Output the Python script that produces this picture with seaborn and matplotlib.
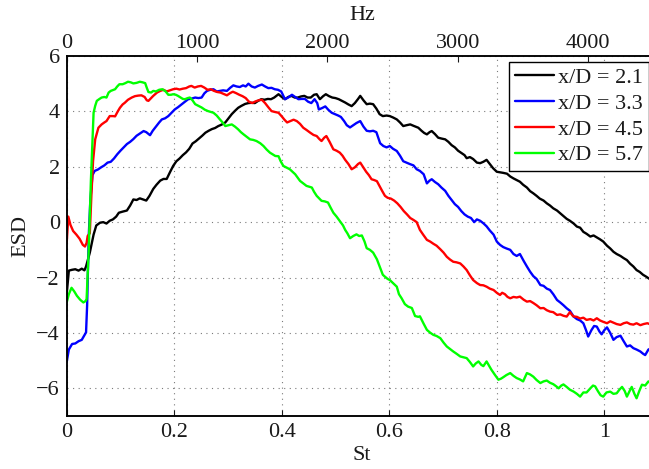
import numpy as np
import pandas as pd
import matplotlib
matplotlib.use("Agg")
import matplotlib.pyplot as plt
import seaborn as sns

# Energy spectral density vs Strouhal number at four downstream stations
st_21 = [0, 0.004, 0.01, 0.016, 0.022, 0.028, 0.033, 0.036, 0.043, 0.05, 0.055, 0.062, 0.068, 0.074,
         0.08, 0.086, 0.092, 0.097, 0.104, 0.112, 0.118, 0.124, 0.13, 0.136, 0.142, 0.148, 0.154, 0.161,
         0.167, 0.174, 0.18, 0.186, 0.192, 0.198, 0.204, 0.21, 0.216, 0.222, 0.228, 0.234, 0.24, 0.246,
         0.252, 0.258, 0.264, 0.27, 0.276, 0.282, 0.288, 0.295, 0.301, 0.307, 0.313, 0.319, 0.325, 0.332,
         0.338, 0.344, 0.35, 0.356, 0.362, 0.368, 0.374, 0.38, 0.386, 0.394, 0.4, 0.406, 0.412, 0.418,
         0.424, 0.43, 0.436, 0.442, 0.448, 0.454, 0.46, 0.465, 0.471, 0.477, 0.482, 0.488, 0.494, 0.5,
         0.506, 0.512, 0.518, 0.524, 0.53, 0.536, 0.542, 0.546, 0.552, 0.558, 0.564, 0.57, 0.576, 0.582,
         0.588, 0.595, 0.601, 0.607, 0.614, 0.62, 0.626, 0.632, 0.639, 0.645, 0.654, 0.66, 0.665, 0.67,
         0.675, 0.679, 0.685, 0.691, 0.697, 0.704, 0.71, 0.716, 0.722, 0.728, 0.734, 0.74, 0.744, 0.75,
         0.756, 0.763, 0.769, 0.775, 0.781, 0.787, 0.793, 0.8, 0.806, 0.812, 0.819, 0.825, 0.831, 0.837,
         0.843, 0.849, 0.856, 0.862, 0.868, 0.874, 0.88, 0.887, 0.893, 0.899, 0.905, 0.912, 0.918, 0.924,
         0.93, 0.936, 0.943, 0.949, 0.955, 0.961, 0.967, 0.974, 0.98, 0.986, 0.992, 0.998, 1.005, 1.011,
         1.017, 1.023, 1.03, 1.036, 1.042, 1.048, 1.054, 1.06, 1.066, 1.072, 1.078, 1.084, 1.09, 1.098]
esd_21 = [-2.6, -1.75, -1.72, -1.7, -1.75, -1.68, -1.74, -1.6, -1.1, -0.45, -0.12, -0.02, 0.0, -0.05,
          0.05, 0.1, 0.2, 0.34, 0.38, 0.42, 0.6, 0.82, 0.8, 0.86, 0.82, 0.78, 0.95, 1.2,
          1.35, 1.5, 1.56, 1.56, 1.8, 2.03, 2.2, 2.3, 2.42, 2.52, 2.65, 2.84, 2.92, 3.02,
          3.12, 3.23, 3.3, 3.36, 3.4, 3.47, 3.52, 3.6, 3.75, 3.9, 4.02, 4.13, 4.2, 4.27,
          4.3, 4.31, 4.3, 4.38, 4.44, 4.42, 4.45, 4.44, 4.5, 4.62, 4.52, 4.44, 4.52, 4.56,
          4.5, 4.5, 4.54, 4.56, 4.5, 4.5, 4.6, 4.62, 4.44, 4.55, 4.62, 4.55, 4.5, 4.48,
          4.44, 4.38, 4.32, 4.25, 4.19, 4.3, 4.45, 4.56, 4.4, 4.26, 4.28, 4.26, 4.1, 3.9,
          3.83, 3.85, 3.83, 3.78, 3.71, 3.6, 3.47, 3.5, 3.53, 3.48, 3.41, 3.3, 3.22, 3.17,
          3.25, 3.29, 3.18, 3.05, 3.02, 2.99, 2.9, 2.78, 2.7, 2.58, 2.5, 2.42, 2.31, 2.35,
          2.28, 2.15, 2.13, 2.18, 2.25, 2.1, 1.95, 1.82, 1.8, 1.78, 1.75, 1.65, 1.58, 1.52,
          1.46, 1.35, 1.25, 1.12, 1.04, 0.95, 0.85, 0.78, 0.68, 0.6, 0.5, 0.42, 0.32, 0.22,
          0.12, 0.05, -0.05, -0.16, -0.2, -0.35, -0.42, -0.52, -0.48, -0.55, -0.62, -0.7, -0.85, -0.95,
          -1.07, -1.15, -1.22, -1.3, -1.37, -1.5, -1.6, -1.73, -1.8, -1.9, -1.97, -2.05, -2.1, -2.15]

st_33 = [0, 0.004, 0.01, 0.016, 0.022, 0.028, 0.034, 0.036, 0.038, 0.041, 0.044, 0.048, 0.052, 0.058,
         0.064, 0.07, 0.076, 0.082, 0.088, 0.094, 0.1, 0.106, 0.112, 0.118, 0.124, 0.13, 0.136, 0.143,
         0.148, 0.155, 0.16, 0.166, 0.172, 0.177, 0.183, 0.189, 0.195, 0.201, 0.207, 0.214, 0.22, 0.226,
         0.232, 0.239, 0.245, 0.251, 0.256, 0.261, 0.267, 0.273, 0.279, 0.285, 0.291, 0.298, 0.304, 0.31,
         0.316, 0.322, 0.328, 0.333, 0.338, 0.344, 0.35, 0.356, 0.363, 0.369, 0.375, 0.381, 0.387, 0.393,
         0.399, 0.406, 0.412, 0.419, 0.425, 0.431, 0.437, 0.443, 0.449, 0.455, 0.461, 0.466, 0.469, 0.475,
         0.481, 0.487, 0.493, 0.499, 0.505, 0.51, 0.516, 0.521, 0.527, 0.533, 0.539, 0.546, 0.552, 0.558,
         0.564, 0.57, 0.576, 0.583, 0.589, 0.595, 0.601, 0.607, 0.614, 0.62, 0.626, 0.632, 0.638, 0.645,
         0.651, 0.657, 0.664, 0.67, 0.675, 0.679, 0.685, 0.691, 0.697, 0.704, 0.71, 0.716, 0.722, 0.728,
         0.734, 0.74, 0.746, 0.752, 0.758, 0.763, 0.769, 0.775, 0.781, 0.787, 0.794, 0.8, 0.806, 0.812,
         0.818, 0.825, 0.831, 0.837, 0.843, 0.85, 0.856, 0.862, 0.868, 0.874, 0.881, 0.887, 0.893, 0.899,
         0.905, 0.912, 0.918, 0.924, 0.93, 0.936, 0.943, 0.949, 0.955, 0.961, 0.966, 0.97, 0.976, 0.981,
         0.986, 0.991, 0.995, 1.0, 1.005, 1.011, 1.017, 1.023, 1.03, 1.036, 1.042, 1.048, 1.054, 1.06,
         1.067, 1.072, 1.076, 1.082, 1.088, 1.095]
esd_33 = [-5.05, -4.6, -4.4, -4.38, -4.3, -4.25, -4.05, -3.98, -3.0, -0.5, 0.8, 1.7, 1.85, 1.9,
          1.98, 2.05, 2.15, 2.18, 2.3, 2.45, 2.58, 2.7, 2.82, 2.9, 3.0, 3.12, 3.2, 3.29,
          3.25, 3.14, 3.3, 3.45, 3.6, 3.71, 3.75, 3.83, 3.95, 4.07, 4.15, 4.26, 4.35, 4.44,
          4.46, 4.5, 4.48, 4.5, 4.65, 4.74, 4.78, 4.8, 4.72, 4.74, 4.76, 4.74, 4.85, 4.94,
          4.9, 4.88, 4.94, 4.9, 5.0, 4.9, 4.86, 4.92, 4.97, 4.9, 4.84, 4.85, 4.8, 4.78,
          4.72, 4.44, 4.5, 4.6, 4.52, 4.44, 4.45, 4.45, 4.35, 4.3, 4.44, 4.3, 4.07, 4.12,
          4.18, 4.05, 3.95, 3.9, 3.85, 3.8, 3.65, 3.5, 3.42, 3.5, 3.58, 3.65, 3.45, 3.3,
          3.28, 3.3, 3.25, 2.85, 2.75, 2.7, 2.75, 2.65, 2.57, 2.4, 2.2, 2.15, 2.1, 2.05,
          1.91, 1.85, 1.73, 1.4, 1.5, 1.55, 1.45, 1.37, 1.25, 1.13, 0.95, 0.8, 0.65, 0.55,
          0.4, 0.28, 0.2, 0.15, 0.0, 0.1, 0.05, -0.04, -0.15, -0.3, -0.45, -0.7, -0.82, -0.9,
          -0.95, -1.0, -1.15, -1.22, -1.15, -1.4, -1.6, -1.79, -1.95, -2.05, -2.27, -2.3, -2.4, -2.45,
          -2.6, -2.81, -2.9, -3.0, -3.11, -3.2, -3.41, -3.5, -3.55, -3.65, -3.9, -4.13, -3.9, -3.75,
          -3.77, -3.95, -4.05, -3.9, -3.8, -4.0, -4.25, -4.15, -4.1, -4.3, -4.49, -4.45, -4.55, -4.6,
          -4.67, -4.75, -4.8, -4.6, -4.55, -4.6]

st_45 = [0, 0.003, 0.007, 0.012, 0.018, 0.024, 0.03, 0.034, 0.037, 0.039, 0.043, 0.046, 0.049, 0.053,
         0.059, 0.065, 0.07, 0.074, 0.08, 0.086, 0.09, 0.095, 0.099, 0.104, 0.108, 0.114, 0.121, 0.127,
         0.133, 0.139, 0.145, 0.149, 0.152, 0.157, 0.161, 0.168, 0.174, 0.18, 0.186, 0.192, 0.198, 0.204,
         0.21, 0.216, 0.222, 0.228, 0.232, 0.238, 0.244, 0.25, 0.256, 0.262, 0.268, 0.274, 0.28, 0.286,
         0.292, 0.298, 0.304, 0.309, 0.315, 0.321, 0.327, 0.333, 0.339, 0.345, 0.351, 0.357, 0.363, 0.369,
         0.375, 0.381, 0.387, 0.394, 0.4, 0.405, 0.41, 0.416, 0.422, 0.428, 0.434, 0.44, 0.446, 0.453,
         0.459, 0.465, 0.47, 0.474, 0.479, 0.483, 0.489, 0.496, 0.502, 0.508, 0.513, 0.518, 0.524, 0.53,
         0.536, 0.542, 0.546, 0.551, 0.557, 0.562, 0.567, 0.572, 0.577, 0.582, 0.587, 0.592, 0.597, 0.603,
         0.609, 0.615, 0.621, 0.627, 0.633, 0.639, 0.645, 0.651, 0.657, 0.663, 0.67, 0.676, 0.682, 0.688,
         0.695, 0.701, 0.707, 0.713, 0.719, 0.725, 0.732, 0.738, 0.744, 0.75, 0.756, 0.763, 0.769, 0.775,
         0.781, 0.787, 0.794, 0.8, 0.806, 0.81, 0.815, 0.82, 0.825, 0.831, 0.837, 0.843, 0.85, 0.856,
         0.862, 0.868, 0.874, 0.881, 0.887, 0.893, 0.899, 0.905, 0.912, 0.918, 0.924, 0.93, 0.936, 0.942,
         0.949, 0.955, 0.961, 0.967, 0.974, 0.98, 0.986, 0.992, 0.998, 1.005, 1.011, 1.017, 1.023, 1.03,
         1.036, 1.042, 1.048, 1.054, 1.06, 1.067, 1.073, 1.08, 1.087, 1.095]
esd_45 = [-0.75, 0.2, -0.1, -0.32, -0.45, -0.6, -0.82, -0.88, -0.75, -0.5, -0.4, 1.0, 2.2, 2.99,
          3.41, 3.53, 3.6, 3.65, 3.83, 3.83, 3.82, 4.0, 4.13, 4.25, 4.31, 4.42, 4.5, 4.55,
          4.57, 4.58, 4.52, 4.4, 4.38, 4.48, 4.56, 4.68, 4.74, 4.78, 4.72, 4.76, 4.8, 4.82,
          4.79, 4.82, 4.84, 4.9, 4.92, 4.86, 4.9, 4.92, 4.86, 4.78, 4.8, 4.74, 4.7, 4.68,
          4.63, 4.58, 4.66, 4.71, 4.66, 4.6, 4.55, 4.48, 4.35, 4.3, 4.36, 4.4, 4.42, 4.3,
          4.15, 4.01, 3.98, 3.95, 3.82, 3.7, 3.6, 3.65, 3.7, 3.65, 3.55, 3.41, 3.33, 3.23,
          3.15, 3.11, 3.0, 2.93, 3.05, 3.11, 2.9, 2.63, 2.58, 2.51, 2.4, 2.25, 2.1, 1.91,
          1.98, 2.1, 2.15, 2.0, 1.82, 1.7, 1.55, 1.52, 1.48, 1.3, 1.12, 0.95, 0.88, 0.85,
          0.78, 0.68, 0.55, 0.4, 0.28, 0.15, 0.08, 0.0, -0.28, -0.45, -0.64, -0.7, -0.78, -0.85,
          -0.98, -1.1, -1.25, -1.35, -1.43, -1.45, -1.49, -1.6, -1.73, -1.92, -2.09, -2.2, -2.27, -2.28,
          -2.33, -2.4, -2.45, -2.55, -2.63, -2.55, -2.6, -2.7, -2.75, -2.7, -2.72, -2.69, -2.8, -2.87,
          -2.85, -2.92, -3.0, -3.11, -3.1, -3.18, -3.23, -3.25, -3.35, -3.33, -3.38, -3.41, -3.25, -3.4,
          -3.42, -3.48, -3.45, -3.53, -3.5, -3.55, -3.47, -3.55, -3.6, -3.65, -3.58, -3.63, -3.68, -3.71,
          -3.65, -3.62, -3.68, -3.7, -3.65, -3.72, -3.68, -3.65, -3.7, -3.68]

st_57 = [0, 0.004, 0.009, 0.014, 0.019, 0.025, 0.031, 0.035, 0.037, 0.041, 0.045, 0.048, 0.05, 0.053,
         0.056, 0.061, 0.065, 0.07, 0.074, 0.078, 0.082, 0.087, 0.09, 0.094, 0.098, 0.104, 0.109, 0.114,
         0.119, 0.124, 0.13, 0.136, 0.141, 0.146, 0.149, 0.152, 0.157, 0.161, 0.166, 0.172, 0.178, 0.184,
         0.189, 0.194, 0.198, 0.203, 0.207, 0.212, 0.216, 0.22, 0.225, 0.229, 0.234, 0.239, 0.245, 0.251,
         0.257, 0.263, 0.268, 0.273, 0.279, 0.285, 0.29, 0.295, 0.301, 0.307, 0.313, 0.319, 0.324, 0.329,
         0.335, 0.341, 0.347, 0.353, 0.36, 0.366, 0.372, 0.378, 0.383, 0.388, 0.394, 0.398, 0.403, 0.409,
         0.415, 0.42, 0.425, 0.43, 0.434, 0.44, 0.446, 0.451, 0.456, 0.46, 0.465, 0.47, 0.474, 0.48,
         0.486, 0.491, 0.496, 0.502, 0.508, 0.514, 0.518, 0.522, 0.527, 0.533, 0.539, 0.544, 0.549, 0.554,
         0.558, 0.564, 0.57, 0.577, 0.583, 0.588, 0.592, 0.597, 0.601, 0.607, 0.614, 0.618, 0.623, 0.629,
         0.635, 0.642, 0.648, 0.654, 0.657, 0.664, 0.67, 0.676, 0.682, 0.688, 0.695, 0.701, 0.707, 0.713,
         0.719, 0.725, 0.732, 0.738, 0.744, 0.75, 0.756, 0.761, 0.766, 0.771, 0.775, 0.781, 0.786, 0.79,
         0.796, 0.803, 0.808, 0.812, 0.818, 0.825, 0.831, 0.837, 0.843, 0.849, 0.856, 0.862, 0.868, 0.874,
         0.881, 0.887, 0.893, 0.899, 0.905, 0.91, 0.915, 0.92, 0.924, 0.93, 0.936, 0.943, 0.949, 0.955,
         0.961, 0.967, 0.974, 0.979, 0.983, 0.988, 0.993, 0.998, 1.004, 1.011, 1.017, 1.023, 1.028, 1.033,
         1.038, 1.042, 1.047, 1.051, 1.056, 1.06, 1.065, 1.07, 1.076, 1.082, 1.088, 1.095]
esd_57 = [-2.9, -2.6, -2.37, -2.5, -2.66, -2.8, -2.9, -2.85, -2.78, -1.0, 1.5, 3.0, 3.95, 4.2,
          4.38, 4.45, 4.5, 4.52, 4.5, 4.68, 4.74, 4.78, 4.8, 4.9, 4.98, 4.98, 5.02, 5.07,
          5.05, 5.01, 5.03, 5.07, 5.05, 5.02, 4.85, 4.7, 4.68, 4.74, 4.72, 4.78, 4.8, 4.72,
          4.6, 4.6, 4.62, 4.6, 4.56, 4.5, 4.45, 4.44, 4.48, 4.5, 4.4, 4.26, 4.2, 4.14,
          4.06, 4.01, 3.98, 3.95, 3.85, 3.71, 3.6, 3.47, 3.5, 3.53, 3.45, 3.35, 3.25, 3.17,
          3.08, 2.99, 2.97, 2.93, 2.85, 2.75, 2.62, 2.51, 2.45, 2.39, 2.38, 2.2, 2.03, 1.97,
          1.91, 1.82, 1.73, 1.6, 1.49, 1.4, 1.31, 1.28, 1.25, 1.1, 0.95, 0.85, 0.77, 0.75,
          0.71, 0.52, 0.34, 0.2, 0.04, -0.12, -0.28, -0.4, -0.58, -0.5, -0.44, -0.5, -0.48, -0.7,
          -0.94, -1.0, -1.1, -1.34, -1.65, -1.9, -1.97, -2.05, -2.09, -2.2, -2.33, -2.6, -2.75, -2.96,
          -3.05, -3.1, -3.39, -3.42, -3.4, -3.67, -3.89, -3.99, -4.07, -4.11, -4.19, -4.35, -4.49, -4.58,
          -4.67, -4.75, -4.85, -4.88, -4.91, -5.05, -5.21, -5.1, -5.03, -5.15, -5.2, -5.03, -5.2, -5.33,
          -5.5, -5.69, -5.65, -5.6, -5.52, -5.45, -5.55, -5.63, -5.68, -5.75, -5.45, -5.5, -5.58, -5.7,
          -5.81, -5.75, -5.72, -5.8, -5.85, -5.92, -6.0, -5.9, -5.86, -5.95, -6.05, -6.12, -6.2, -6.3,
          -6.15, -6.15, -6.0, -5.9, -5.93, -6.1, -6.25, -6.3, -6.15, -6.12, -6.2, -6.18, -6.05, -5.95,
          -6.1, -6.3, -6.1, -5.95, -6.2, -6.36, -6.1, -5.87, -5.9, -5.75, -5.85, -5.8]

labels = ["x/D = 2.1", "x/D = 3.3", "x/D = 4.5", "x/D = 5.7"]
colors = ["#000000", "#0000ff", "#ff0000", "#00ff00"]

x_ticks = [0, 0.2, 0.4, 0.6, 0.8, 1.0]
x_ticklabels = ["0", "0.2", "0.4", "0.6", "0.8", "1"]
y_ticks = [-6, -4, -2, 0, 2, 4, 6]
hz_ticks = [0, 1000, 2000, 3000, 4000]

frames = []
for lab, st, esd in zip(labels, [st_21, st_33, st_45, st_57], [esd_21, esd_33, esd_45, esd_57]):
    frames.append(pd.DataFrame({"St": st, "ESD": esd, "series": lab}))
df = pd.concat(frames, ignore_index=True)

sns.set_theme(style="white")
plt.rcParams["font.family"] = ["Liberation Serif", "DejaVu Serif"]
plt.rcParams["axes.unicode_minus"] = True

W, H = 649, 469
fig = plt.figure(figsize=(W / 100, H / 100), dpi=100)
left_px, right_px, top_px, bottom_px = 66.7, 657.0, 56.0, 416.0
ax = fig.add_axes([left_px / W, 1 - bottom_px / H, (right_px - left_px) / W, (bottom_px - top_px) / H])

sns.lineplot(data=df, x="St", y="ESD", hue="series", hue_order=labels, palette=colors,
             estimator=None, sort=False, linewidth=1.7, ax=ax, legend=True)

st_max = 1.098
hz_max = 4530
ax.set_xlim(0, st_max)
ax.set_ylim(-7, 6)
ax.set_xticks(x_ticks)
ax.set_xticklabels(x_ticklabels)
ax.set_yticks(y_ticks)
ax.set_yticklabels([str(v).replace("-", "\u2212") for v in y_ticks])

text_color = "#1a1a1a"
fs = 16
ax.tick_params(axis="both", direction="in", length=4.5, width=0.8, labelsize=fs,
               colors=text_color, top=True, right=True, pad=5)
ax.tick_params(axis="x", pad=5)
ax.set_xlabel("St", fontsize=fs, color=text_color, labelpad=3)
ax.set_ylabel("ESD", fontsize=fs, color=text_color, labelpad=4)

grid_style = dict(color="#7a7a7a", linestyle=(0, (1, 4)), linewidth=0.8)
ax.grid(True, which="major", **grid_style)
for sp in ax.spines.values():
    sp.set_visible(True)
    sp.set_color("black")
    sp.set_linewidth(1.1)

# Frequency axis along the top
ax2 = ax.twiny()
ax2.set_xlim(0, hz_max)
ax2.set_xticks(hz_ticks)
ax2.set_xticklabels([str(v) for v in hz_ticks])
ax2.tick_params(axis="x", direction="in", length=4.5, width=0.8, labelsize=fs,
                colors=text_color, pad=2)
ax2.set_xlabel("Hz", fontsize=fs, color=text_color, labelpad=10)
ax2.grid(False)
for sp in ax2.spines.values():
    sp.set_color("black")
    sp.set_linewidth(1.1)

handles, lbls = ax.get_legend_handles_labels()
for h in handles:
    h.set_linewidth(1.7)
ax.legend(handles, lbls, loc="upper right",
          bbox_to_anchor=(648.5 / W, 1 - 61.7 / H), bbox_transform=fig.transFigure,
          frameon=True, fancybox=False, framealpha=1, edgecolor="black",
          fontsize=fs, handlelength=1.75, handletextpad=0.2, labelspacing=0.24,
          borderpad=0.25, borderaxespad=0)
leg = ax.get_legend()
leg.get_frame().set_linewidth(1.0)
for t in leg.get_texts():
    t.set_color(text_color)
leg.set_zorder(5)

fig.savefig("out.png", dpi=100)
